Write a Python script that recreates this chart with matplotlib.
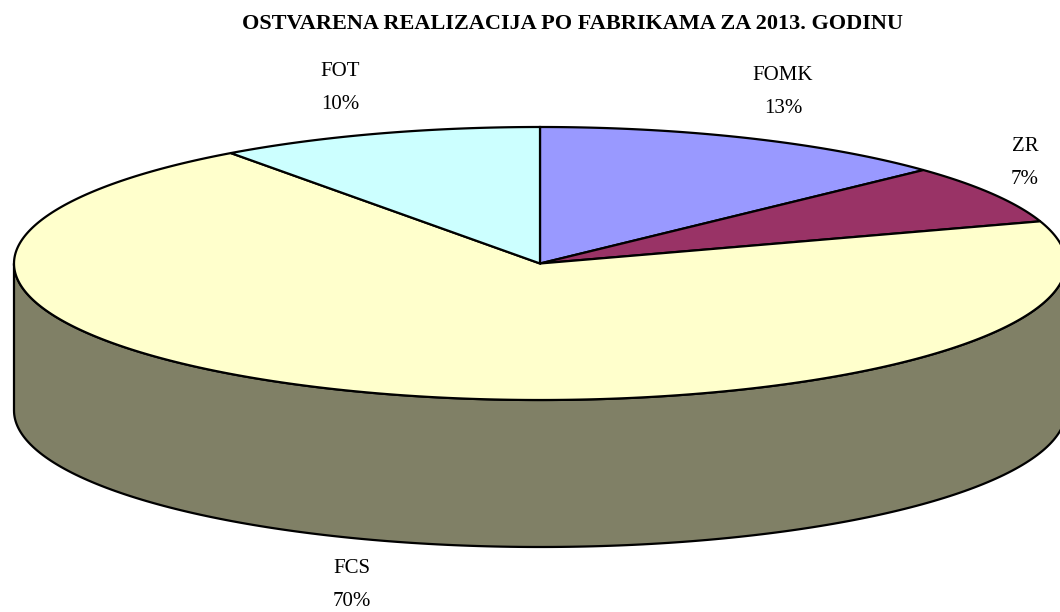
import numpy as np
import matplotlib.pyplot as plt
from matplotlib.patches import Polygon

labels = ['FOMK', 'ZR', 'FCS', 'FOT']
shares = [13, 7, 70, 10]
top_colors = ['#9999FF', '#993366', '#FFFFCC', '#CCFFFF']
side_colors = ['#4D4D80', '#4D1A33', '#808066', '#668080']
title = 'OSTVARENA REALIZACIJA PO FABRIKAMA ZA 2013. GODINU'

# pie geometry in pixels
cx, cy = 540, 263.5
rx, ry = 526, 136.5
depth = 147

plt.rcParams['font.family'] = ['Liberation Serif', 'DejaVu Serif']

fig = plt.figure(figsize=(10.6, 6.12), dpi=100)
ax = fig.add_axes([0, 0, 1, 1])
ax.set_xlim(0, 1060)
ax.set_ylim(612, 0)
ax.axis('off')


def pt(t, dy=0):
    return cx + rx * np.cos(t), cy - ry * np.sin(t) + dy


fracs = np.array(shares) / sum(shares)
bounds = np.pi / 2 - 2 * np.pi * np.concatenate([[0], np.cumsum(fracs)])

# side wall: only the front half (angles pi..2pi) is visible
for i in range(len(shares)):
    a0, a1 = bounds[i + 1], bounds[i]
    for k in range(-2, 3):
        lo, hi = a0 + 2 * np.pi * k, a1 + 2 * np.pi * k
        s, e = max(lo, np.pi), min(hi, 2 * np.pi)
        if e > s:
            t = np.linspace(s, e, 200)
            x, y = pt(t)
            xb, yb = pt(t[::-1], depth)
            poly = np.column_stack([np.concatenate([x, xb]), np.concatenate([y, yb])])
            ax.add_patch(Polygon(poly, closed=True, facecolor=side_colors[i],
                                 edgecolor='black', linewidth=1.6, zorder=1))

# top face
for i in range(len(shares)):
    t = np.linspace(bounds[i], bounds[i + 1], 300)
    x, y = pt(t)
    poly = np.column_stack([np.concatenate([[cx], x]), np.concatenate([[cy], y])])
    ax.add_patch(Polygon(poly, closed=True, facecolor=top_colors[i],
                         edgecolor='black', linewidth=1.6, zorder=2))

ax.text(572, 24, title, ha='center', va='center', fontsize=16,
        fontweight='bold')

label_pos = {'FOMK': (783, 92), 'ZR': (1025, 163), 'FCS': (352, 585), 'FOT': (340, 88)}
for name, val in zip(labels, shares):
    x, y = label_pos[name]
    ax.text(x, y, f'{name}\n{val}%', ha='center', va='center', fontsize=15,
            linespacing=1.95)

fig.savefig('out.png', dpi=100)
